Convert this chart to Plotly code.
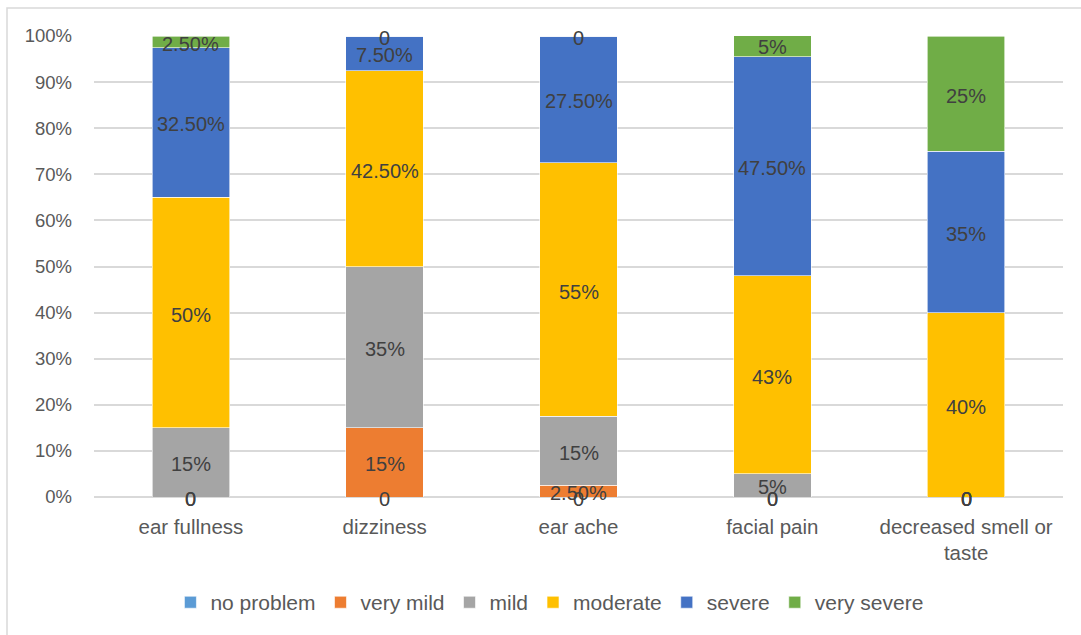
import numpy as np
import plotly.graph_objects as go

# Symptom categories and severity series (percent of respondents)
categories = ["ear fullness", "dizziness", "ear ache", "facial pain", "decreased smell or<br>taste"]
series_names = ["no problem", "very mild", "mild", "moderate", "severe", "very severe"]
no_problem = [0, 0, 0, 0, 0]
very_mild = [0, 15, 2.5, 0, 0]
mild = [15, 35, 15, 5, 0]
moderate = [50, 42.5, 55, 43, 40]
severe = [32.5, 7.5, 27.5, 47.5, 35]
very_severe = [2.5, 0, 0, 5, 25]
colors = ["#5B9BD5", "#ED7D31", "#A5A5A5", "#FFC000", "#4472C4", "#70AD47"]
y_ticks = [0, 10, 20, 30, 40, 50, 60, 70, 80, 90, 100]
y_tick_labels = [f"{t}%" for t in y_ticks]

all_series = [no_problem, very_mild, mild, moderate, severe, very_severe]

FONT = "Liberation Sans, Arial, sans-serif"
TEXT_GRAY = "#595959"
LABEL_DARK = "#404040"


def fmt(v):
    if v == 0:
        return "0"
    if float(v).is_integer():
        return f"{int(v)}%"
    return f"{v:.2f}%"


fig = go.Figure()

# Stacked bars
for name, vals, col in zip(series_names, all_series, colors):
    fig.add_trace(go.Bar(
        x=categories, y=vals, name=name,
        marker=dict(color=col, line=dict(color="white", width=0.6)),
    ))

# Data labels centred in each segment (zero-height segments labelled at their stack level)
stack = np.array(all_series, dtype=float)
tops = np.cumsum(stack, axis=0)
bottoms = tops - stack
mids = (tops + bottoms) / 2
for i, vals in enumerate(all_series):
    for j, v in enumerate(vals):
        fig.add_annotation(
            x=categories[j], y=mids[i][j], text=fmt(v),
            showarrow=False, yshift=-2,
            font=dict(family=FONT, size=20, color=LABEL_DARK),
        )

# Light frame around the chart area
fig.add_shape(type="rect", xref="paper", yref="paper",
              x0=(7 - 94) / 969, x1=(1090 - 94) / 969,
              y0=(497 - 645) / 461, y1=(497 - 8) / 461,
              line=dict(color="#D9D9D9", width=1.5), fillcolor="rgba(0,0,0,0)",
              layer="below")

fig.update_layout(
    barmode="stack",
    bargap=0.6,
    width=1081, height=635,
    margin=dict(l=94, r=18, t=36, b=138),
    plot_bgcolor="white", paper_bgcolor="white",
    font=dict(family=FONT, size=19, color=TEXT_GRAY),
    xaxis=dict(showgrid=False, showline=False, ticks="",
               tickfont=dict(size=20.5, color=TEXT_GRAY), ticklabelstandoff=15),
    yaxis=dict(range=[0, 100], tickvals=y_ticks, ticktext=y_tick_labels,
               showgrid=True, gridcolor="#D9D9D9", gridwidth=1.5,
               zeroline=True, zerolinecolor="#D9D9D9", zerolinewidth=1.5,
               showline=False, ticks="", ticklabelstandoff=21,
               tickfont=dict(size=18.5, color=TEXT_GRAY)),
    legend=dict(orientation="h", x=0.47, xanchor="center", y=-0.229, yanchor="middle",
                font=dict(size=21, color=TEXT_GRAY), itemwidth=30,
                traceorder="normal"),
    showlegend=True,
)

fig.write_html("out.html")
